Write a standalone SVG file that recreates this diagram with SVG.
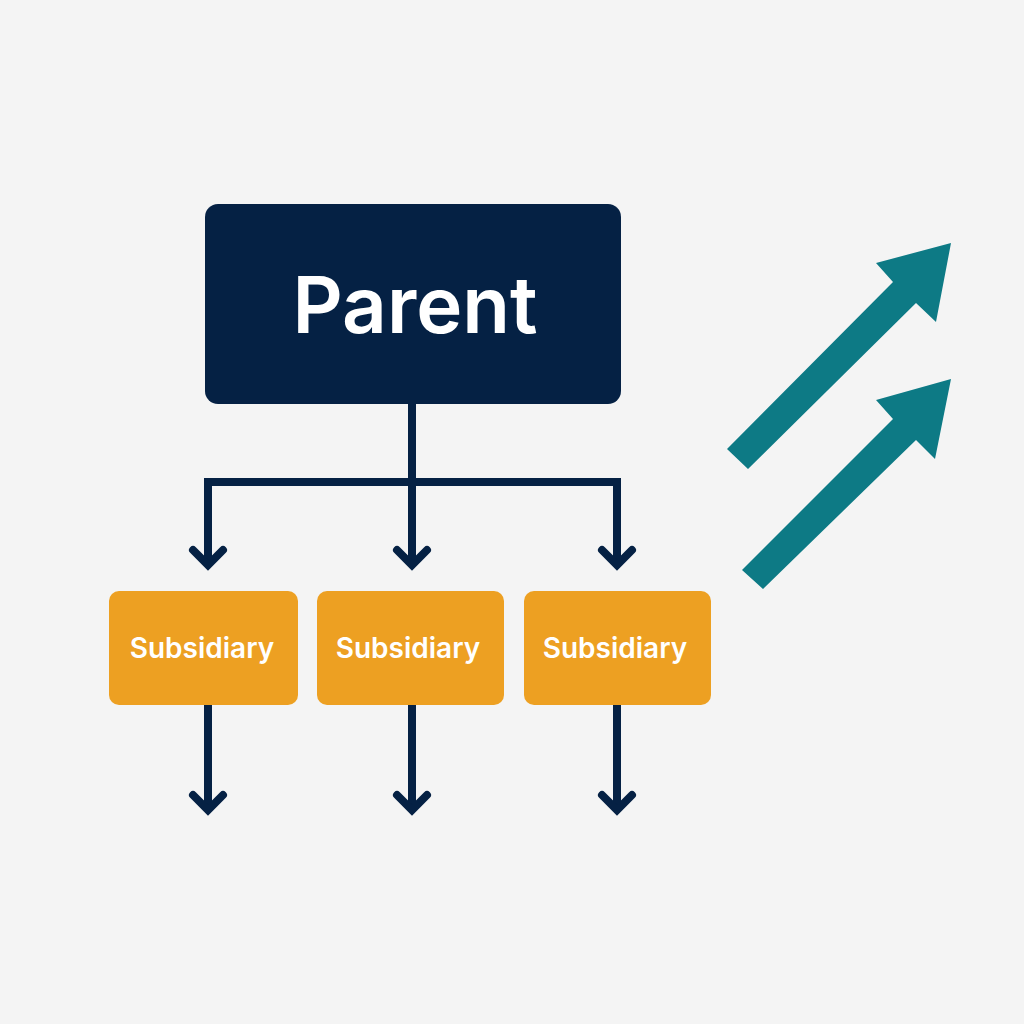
<svg xmlns="http://www.w3.org/2000/svg" width="1024" height="1024" viewBox="0 0 1024 1024">
  <style>
    .parent { fill: #052144; }
    .sub { fill: #eda022; }
    .conn { stroke: #052144; stroke-width: 8; fill: none; }
    .head { stroke: #052144; stroke-width: 8; fill: none; stroke-linecap: round; stroke-linejoin: miter; }
    .teal { fill: #0d7a85; }
    .ptext { font-family: Inter, "Liberation Sans", sans-serif; font-weight: 600; font-size: 78px; fill: #ffffff; text-anchor: middle; }
    .stext { font-family: Inter, "Liberation Sans", sans-serif; font-weight: 600; font-size: 28px; fill: #ffffff; text-anchor: middle; }
  </style>
  <rect width="1024" height="1024" fill="#f4f4f4"/>

  <g id="connectors">
    <path class="conn" d="M412 404 V482"/>
    <path class="conn" d="M208 564 V482 H617 V564"/>
    <path class="conn" d="M412 482 V564"/>
    <path class="head" d="M193 550 L208 565 L223 550"/>
    <path class="head" d="M397 550 L412 565 L427 550"/>
    <path class="head" d="M602 550 L617 565 L632 550"/>
    <path class="conn" d="M208 705 V807"/>
    <path class="conn" d="M412 705 V807"/>
    <path class="conn" d="M617 705 V807"/>
    <path class="head" d="M193 795 L208 810 L223 795"/>
    <path class="head" d="M397 795 L412 810 L427 795"/>
    <path class="head" d="M602 795 L617 810 L632 795"/>
  </g>

  <g id="parent">
    <rect class="parent" x="205" y="204" width="416" height="200" rx="13"/>
    <text class="ptext" x="415" y="333">Parent</text>
  </g>

  <g id="sub1">
    <rect class="sub" x="109" y="591" width="189" height="114" rx="10"/>
    <text class="stext" x="202" y="658">Subsidiary</text>
  </g>
  <g id="sub2">
    <rect class="sub" x="317" y="591" width="187" height="114" rx="10"/>
    <text class="stext" x="408" y="658">Subsidiary</text>
  </g>
  <g id="sub3">
    <rect class="sub" x="524" y="591" width="187" height="114" rx="10"/>
    <text class="stext" x="615" y="658">Subsidiary</text>
  </g>

  <g id="growth-arrows">
    <polygon class="teal" points="951,243 936,322 916,303 748,469 727,449 893,282 876,263"/>
    <polygon class="teal" points="951,379 935,459 916,440 763,589 742,570 893,419 876,400"/>
  </g>
</svg>
